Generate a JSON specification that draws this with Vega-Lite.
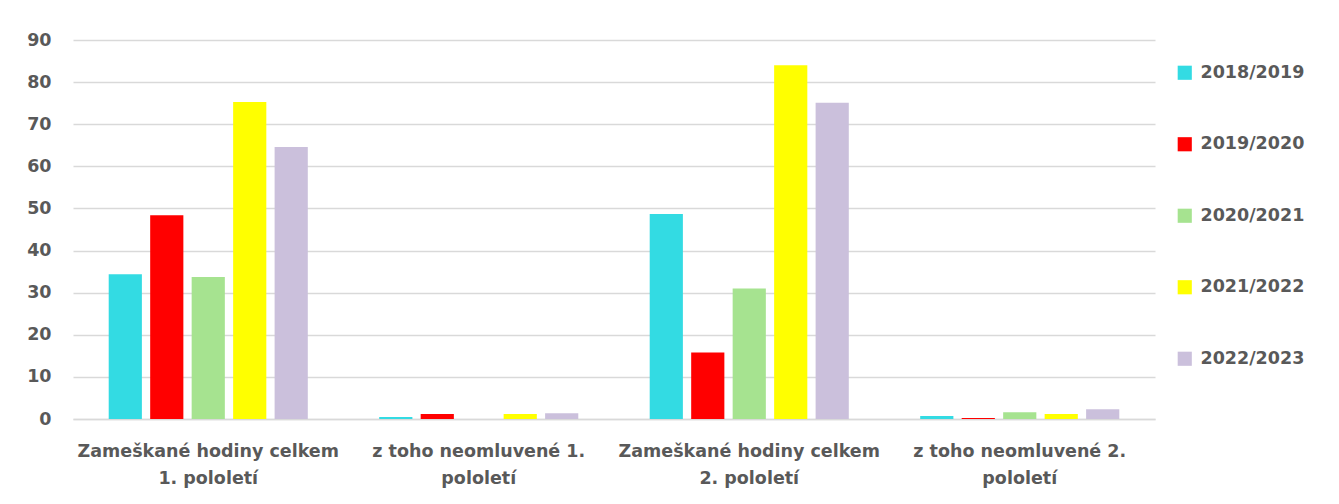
{
  "$schema": "https://vega.github.io/schema/vega-lite/v6.json",
  "autosize": {"type": "none"},
  "width": 1082,
  "height": 379,
  "padding": {"left": 73, "top": 40, "right": 184, "bottom": 85},
  "background": "white",
  "data": {
    "values": [
      {"kategorie": "Zameškané hodiny celkem 1. pololetí", "rok": "2018/2019", "hodnota": 34.4},
      {"kategorie": "Zameškané hodiny celkem 1. pololetí", "rok": "2019/2020", "hodnota": 48.4},
      {"kategorie": "Zameškané hodiny celkem 1. pololetí", "rok": "2020/2021", "hodnota": 33.7},
      {"kategorie": "Zameškané hodiny celkem 1. pololetí", "rok": "2021/2022", "hodnota": 75.3},
      {"kategorie": "Zameškané hodiny celkem 1. pololetí", "rok": "2022/2023", "hodnota": 64.6},
      {"kategorie": "z toho neomluvené 1. pololetí", "rok": "2018/2019", "hodnota": 0.5},
      {"kategorie": "z toho neomluvené 1. pololetí", "rok": "2019/2020", "hodnota": 1.2},
      {"kategorie": "z toho neomluvené 1. pololetí", "rok": "2020/2021", "hodnota": 0},
      {"kategorie": "z toho neomluvené 1. pololetí", "rok": "2021/2022", "hodnota": 1.2},
      {"kategorie": "z toho neomluvené 1. pololetí", "rok": "2022/2023", "hodnota": 1.35},
      {"kategorie": "Zameškané hodiny celkem 2. pololetí", "rok": "2018/2019", "hodnota": 48.7},
      {"kategorie": "Zameškané hodiny celkem 2. pololetí", "rok": "2019/2020", "hodnota": 15.8},
      {"kategorie": "Zameškané hodiny celkem 2. pololetí", "rok": "2020/2021", "hodnota": 31},
      {"kategorie": "Zameškané hodiny celkem 2. pololetí", "rok": "2021/2022", "hodnota": 84},
      {"kategorie": "Zameškané hodiny celkem 2. pololetí", "rok": "2022/2023", "hodnota": 75.1},
      {"kategorie": "z toho neomluvené 2. pololetí", "rok": "2018/2019", "hodnota": 0.7},
      {"kategorie": "z toho neomluvené 2. pololetí", "rok": "2019/2020", "hodnota": 0.25},
      {"kategorie": "z toho neomluvené 2. pololetí", "rok": "2020/2021", "hodnota": 1.6},
      {"kategorie": "z toho neomluvené 2. pololetí", "rok": "2021/2022", "hodnota": 1.2},
      {"kategorie": "z toho neomluvené 2. pololetí", "rok": "2022/2023", "hodnota": 2.3}
    ]
  },
  "mark": {"type": "bar"},
  "encoding": {
    "x": {
      "field": "kategorie",
      "type": "nominal",
      "sort": null,
      "title": null,
      "scale": {"paddingInner": 0.264, "paddingOuter": 0.132},
      "axis": {
        "labelAngle": 0,
        "labelFont": "DejaVu Sans",
        "labelFontSize": 17.5,
        "labelFontWeight": "bold",
        "labelColor": "#595959",
        "labelPadding": 23,
        "labelLineHeight": 27,
        "labelLimit": 400,
        "ticks": false,
        "domainColor": "#d9d9d9",
        "domainWidth": 1.5,
        "labelExpr": "test(/^Zam/, datum.label) ? ['Zameškané hodiny celkem', slice(datum.label, 24)] : [slice(datum.label, 0, -9), 'pololetí']"
      }
    },
    "xOffset": {
      "field": "rok",
      "type": "nominal",
      "scale": {"paddingInner": 0.2, "paddingOuter": 0}
    },
    "y": {
      "field": "hodnota",
      "type": "quantitative",
      "title": null,
      "scale": {"domain": [0, 90], "nice": false},
      "axis": {
        "values": [0, 10, 20, 30, 40, 50, 60, 70, 80, 90],
        "labelFont": "DejaVu Sans",
        "labelFontSize": 17.5,
        "labelFontWeight": "bold",
        "labelColor": "#595959",
        "labelPadding": 22,
        "ticks": false,
        "domain": false,
        "gridColor": "#d9d9d9",
        "gridWidth": 1.5
      }
    },
    "color": {
      "field": "rok",
      "type": "nominal",
      "title": null,
      "scale": {
        "domain": ["2018/2019", "2019/2020", "2020/2021", "2021/2022", "2022/2023"],
        "range": ["#33DBE3", "#FF0000", "#A6E390", "#FFFF00", "#CBC0DC"]
      },
      "legend": {
        "orient": "none",
        "legendX": 1103,
        "legendY": 24,
        "symbolType": "square",
        "symbolSize": 200,
        "symbolStrokeWidth": 0,
        "labelFont": "DejaVu Sans",
        "labelFontSize": 17.5,
        "labelFontWeight": "bold",
        "labelColor": "#595959",
        "labelOffset": 7,
        "rowPadding": 52.5
      }
    }
  },
  "config": {"view": {"stroke": null}}
}
